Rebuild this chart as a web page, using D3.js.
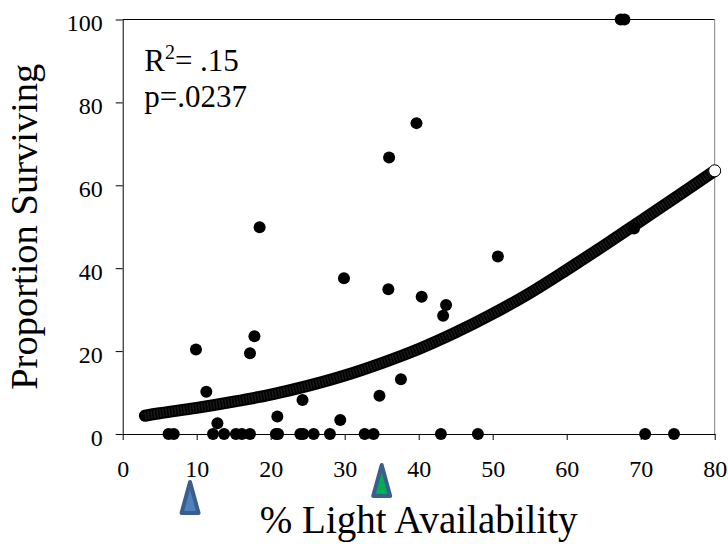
<!DOCTYPE html>
<html>
<head>
<meta charset="utf-8">
<script src="https://cdn.jsdelivr.net/npm/d3@7"></script>
<style>
  body { margin: 0; background: #fff; }
  text { font-family: "Liberation Serif", "Times New Roman", serif; fill: #000; }
</style>
</head>
<body>
<div id="chart"></div>
<script>
// observed points: light availability (%) and proportion surviving
var lightX = [6.2, 6.9, 12.2, 13.7, 15.3, 16.1, 17.2, 20.7, 21.0, 24.0, 24.4, 25.8, 28.0, 32.7, 33.9, 43.0, 48.0, 70.6, 74.5,
              9.9, 11.3, 12.8, 17.2, 17.8, 18.5, 20.9, 24.3, 29.4, 29.9, 34.7, 35.9, 36.0, 37.6, 39.7, 40.4, 43.3, 43.7, 50.7, 67.3, 67.8, 69.1];
var survY  = [0, 0, 0, 0, 0, 0, 0, 0, 0, 0, 0, 0, 0, 0, 0, 0, 0, 0, 0,
              20.4, 10.2, 2.6, 19.5, 23.6, 49.9, 4.2, 8.2, 3.4, 37.6, 9.2, 34.9, 66.7, 13.2, 75.0, 33.1, 28.5, 31.1, 42.8, 100, 100, 49.6];

// fitted curve
var fitX = [3, 5, 10, 15, 20, 25, 30, 35, 40, 45, 50, 55, 60, 65, 70, 75, 80];
var fitY = [4.4, 5.0, 6.3, 7.8, 9.5, 11.6, 14.1, 17.1, 20.5, 24.5, 29.0, 34.0, 39.6, 45.4, 51.4, 57.4, 63.5];

// arrow markers under the x axis
var arrowX = [9.1, 35.0];
var arrowFill = ["#4f81bd", "#00b050"];

var xTicks = [0, 10, 20, 30, 40, 50, 60, 70, 80];
var yTicks = [0, 20, 40, 60, 80, 100];

var W = 728, H = 544;
var margin = { top: 19.5, right: 13.3, bottom: 110, left: 122.7 };
var width = W - margin.left - margin.right,
    height = 434 - margin.top;

var svg = d3.select("#chart").append("svg")
    .attr("width", W)
    .attr("height", H);

var g = svg.append("g")
    .attr("transform", "translate(" + margin.left + "," + margin.top + ")");

var x = d3.scaleLinear().domain([0, 80]).range([0, width]);
var y = d3.scaleLinear().domain([0, 100]).range([height, 0]);

// frame: top black, right grey
g.append("line")
  .attr("x1", 0).attr("x2", width).attr("y1", 0).attr("y2", 0)
  .attr("stroke", "#000").attr("stroke-width", 1);
g.append("line")
  .attr("x1", width).attr("x2", width).attr("y1", 0).attr("y2", height)
  .attr("stroke", "#808080").attr("stroke-width", 1);

// axes
var xAxis = g.append("g")
    .attr("transform", "translate(0," + height + ")")
    .call(d3.axisBottom(x).tickValues(xTicks).tickSizeInner(6).tickSizeOuter(0).tickPadding(20));
var yAxis = g.append("g")
    .call(d3.axisLeft(y).tickValues(yTicks).tickSizeInner(7).tickSizeOuter(0).tickPadding(13));

[xAxis, yAxis].forEach(function(a) {
  a.attr("font-family", null);
  a.select(".domain").attr("stroke", "#000");
  a.selectAll(".tick line").attr("stroke", "#000");
  a.selectAll("text")
    .style("font-family", "'Liberation Serif', 'Times New Roman', serif")
    .style("font-size", "24px")
    .attr("fill", "#000");
});
yAxis.selectAll("text").attr("dy", "0.47em");
xAxis.selectAll("text").attr("dy", "0.71em");

// fitted curve: thick dark band
var line = d3.line()
    .x(function(d) { return x(d[0]); })
    .y(function(d) { return y(d[1]); })
    .curve(d3.curveCatmullRom);

var fit = fitX.map(function(v, i) { return [v, fitY[i]]; });

g.append("path")
  .datum(fit)
  .attr("d", line)
  .attr("fill", "none")
  .attr("stroke", "#000")
  .attr("stroke-width", 12)
  .attr("stroke-linecap", "round");
g.append("path")
  .datum(fit)
  .attr("d", line)
  .attr("fill", "none")
  .attr("stroke", "#1a1a1a")
  .attr("stroke-width", 8)
  .attr("stroke-dasharray", "1.5,1.5");

// end point of the curve
g.append("circle")
  .attr("cx", x(fitX[fitX.length - 1]))
  .attr("cy", y(fitY[fitY.length - 1]))
  .attr("r", 6)
  .attr("fill", "#fff")
  .attr("stroke", "#000")
  .attr("stroke-width", 1);

// data points
g.selectAll(".pt")
  .data(lightX.map(function(v, i) { return [v, survY[i]]; }))
  .enter().append("circle")
  .attr("class", "pt")
  .attr("cx", function(d) { return x(d[0]); })
  .attr("cy", function(d) { return y(d[1]); })
  .attr("r", 6)
  .attr("fill", "#000");

// stats text
var stats = g.append("text")
  .attr("x", 21.5)
  .attr("y", 51.5)
  .style("font-size", "31px");
stats.append("tspan").text("R");
stats.append("tspan").text("2").style("font-size", "20px").attr("dy", -12);
stats.append("tspan").text("= .15").attr("dy", 12);

g.append("text")
  .attr("x", 21.5)
  .attr("y", 87)
  .style("font-size", "31px")
  .text("p=.0237");

// arrow markers under axis
var arrowTop = [480, 463];
var arrowH = 35;
svg.selectAll(".arrow")
  .data(arrowX)
  .enter().append("path")
  .attr("class", "arrow")
  .attr("d", function(d, i) {
    var cx = margin.left + x(d), t = arrowTop[i] + 2, b = t + arrowH - 4;
    return "M" + cx + "," + t + "L" + (cx + 8.5) + "," + b + "L" + (cx - 8.5) + "," + b + "Z";
  })
  .attr("fill", function(d, i) { return arrowFill[i]; })
  .attr("stroke", "#3a5f8e")
  .attr("stroke-width", 4)
  .attr("stroke-linejoin", "round");

// axis titles
svg.append("text")
  .attr("x", margin.left + width / 2)
  .attr("y", 533)
  .attr("text-anchor", "middle")
  .style("font-size", "39px")
  .text("% Light Availability");

svg.append("text")
  .attr("transform", "translate(37," + (margin.top + height / 2) + ") rotate(-90)")
  .attr("text-anchor", "middle")
  .style("font-size", "38.5px")
  .text("Proportion Surviving");
</script>
</body>
</html>
